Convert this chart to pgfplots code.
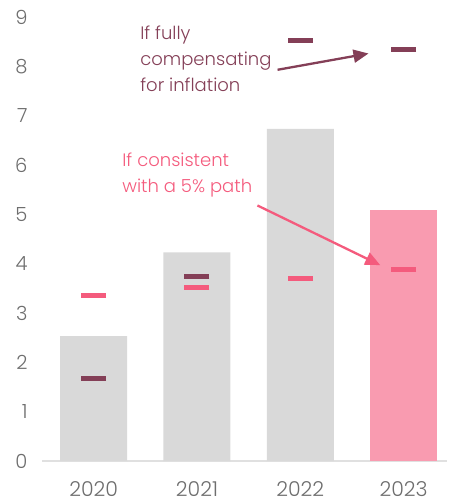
\documentclass[border=0pt]{standalone}
\usepackage{pgfplots}
\pgfplotsset{compat=1.18}
\usepackage{fontspec}
\setmainfont{Poppins}[UprightFont=* Light]
\usetikzlibrary{arrows.meta}
\definecolor{bargray}{HTML}{D9D9D9}
\definecolor{barpink}{HTML}{F99BB0}
\definecolor{dashpink}{HTML}{F45B7D}
\definecolor{maroon}{HTML}{843F57}
\definecolor{ticktext}{HTML}{6E6E6E}
\begin{document}
\begin{tikzpicture}
\useasboundingbox (-42pt,-42pt) rectangle (410pt,461pt);
\begin{axis}[
  at={(0,0)}, anchor=south west,
  scale only axis, width=405pt, height=444pt,
  xmin=-0.5, xmax=3.42, ymin=0, ymax=9,
  axis x line*=bottom, axis y line*=left,
  x axis line style={draw=black!12, line width=1.3pt},
  y axis line style={draw=none},
  major tick length=0pt,
  xtick={0,1,2,3}, xticklabels={2020,2021,2022,2023},
  ytick={0,1,...,9},
  /pgf/number format/assume math mode=true,
  tick label style={font=\fontsize{19.5}{22}\selectfont, text=ticktext},
  yticklabel style={xshift=-11pt},
  xticklabel style={yshift=-17pt, font=\fontsize{20.5}{22}\selectfont},
  clip=false,
]
\addplot[ybar, bar width=67pt, bar shift=0pt, fill=bargray, draw=none] coordinates {(0,2.53) (1,4.23) (2,6.73)};
\addplot[ybar, bar width=67pt, bar shift=0pt, fill=barpink, draw=none] coordinates {(3,5.08)};
\addplot[only marks, mark=-, mark size=12.5pt, mark options={line width=5pt, draw=maroon}] coordinates {(0,1.67) (1,3.74) (2,8.52) (3,8.35)};
\addplot[only marks, mark=-, mark size=12.5pt, mark options={line width=5pt, draw=dashpink}] coordinates {(0,3.35) (1,3.52) (2,3.70) (3,3.88)};
\node[anchor=north west, inner sep=0pt, align=left, text=maroon, font=\fontsize{18}{26}\selectfont] at (axis cs:0.45,8.83) {If fully\\compensating\\for inflation};
\node[anchor=north west, inner sep=0pt, align=left, text=dashpink, font=\fontsize{18}{26}\selectfont] at (axis cs:0.276,6.25) {If consistent\\with a 5\% path};
\draw[maroon, line width=2.3pt, -{Triangle[length=15pt,width=13pt]}] (axis cs:1.78,7.93) -- (axis cs:2.66,8.26);
\draw[dashpink, line width=2.3pt, -{Triangle[length=15pt,width=13pt]}] (axis cs:1.585,5.18) -- (axis cs:2.774,3.97);
\end{axis}
\end{tikzpicture}
\end{document}
